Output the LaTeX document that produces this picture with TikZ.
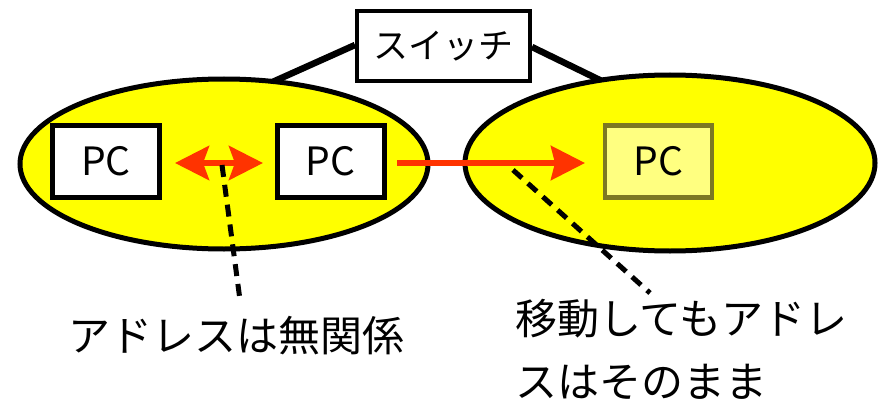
\documentclass[tikz,border=0pt]{standalone}
\usepackage{fontspec}
\setmainfont{Noto Sans CJK JP}
\usetikzlibrary{arrows.meta,shapes.geometric}
\definecolor{ayellow}{RGB}{255,255,0}
\definecolor{ared}{RGB}{255,51,0}
\definecolor{aolive}{RGB}{125,120,35}
\definecolor{lightyel}{RGB}{255,255,128}
\tikzset{
  net/.style={ellipse, draw=black, line width=5pt, fill=ayellow, inner sep=0pt},
  pcbox/.style={draw=black, line width=5pt, fill=white, minimum width=107pt, minimum height=72pt, inner sep=0pt, font=\fontsize{39}{42}\selectfont},
  pcghost/.style={pcbox, draw=aolive, line width=4.5pt, fill=lightyel},
  swbox/.style={draw=black, line width=4pt, fill=white, minimum width=173pt, minimum height=70pt, inner sep=0pt, font=\fontsize{35}{40}\selectfont},
  link/.style={line width=6.5pt, black},
  redarrow/.style={line width=6pt, ared},
  callout/.style={line width=5pt, black, dash pattern=on 12pt off 8pt},
  label/.style={inner sep=0pt, font=\fontsize{42}{63}\selectfont}
}
\begin{document}
\begin{tikzpicture}[x=1pt,y=-1pt]
\useasboundingbox (0,0) rectangle (878,404);
% switch links (behind ellipses)
\node[swbox] (sw) at (443.5,46) {スイッチ};
\coordinate (lend) at (268,84);
\coordinate (rend) at (608,84);
\draw[link] (sw.west |- 0,45) -- (lend);
\draw[link] (sw.east |- 0,47) -- (rend);
% networks
\node[net, minimum width=408pt, minimum height=170pt] (netA) at (224,164) {};
\node[net, minimum width=410pt, minimum height=176pt] (netB) at (670,163) {};
% PCs
\node[pcbox] (pc1) at (106,161.5) {PC};
\node[pcbox] (pc2) at (330.5,161.5) {PC};
\node[pcghost] (pc3) at (658.5,161.5) {PC};
% arrows
\coordinate (d1) at (175,163);
\coordinate (d2) at (263,163);
\draw[redarrow, {Stealth[length=34pt,width=34pt,inset=6pt]}-{Stealth[length=34pt,width=34pt,inset=6pt]}] (d1) -- (d2);
\coordinate (m1) at (397,163);
\coordinate (m2) at (585,163);
\draw[redarrow, -{Stealth[length=34pt,width=34pt,inset=4pt]}] (m1) -- (m2);
% switch box on top
\node[swbox] at (sw) {スイッチ};
% labels
\node[label] (t1) at (236,336) {アドレスは無関係};
\node[label, anchor=west, align=left] (t2) at (515,349) {移動してもアドレ\\スはそのまま};
% callouts
\coordinate (c1s) at (222,165);
\coordinate (c1e) at (240,300);
\coordinate (c2s) at (513,170);
\coordinate (c2e) at (650,293);
\draw[callout] (c1s) -- (c1e);
\draw[callout] (c2s) -- (c2e);
\end{tikzpicture}
\end{document}
